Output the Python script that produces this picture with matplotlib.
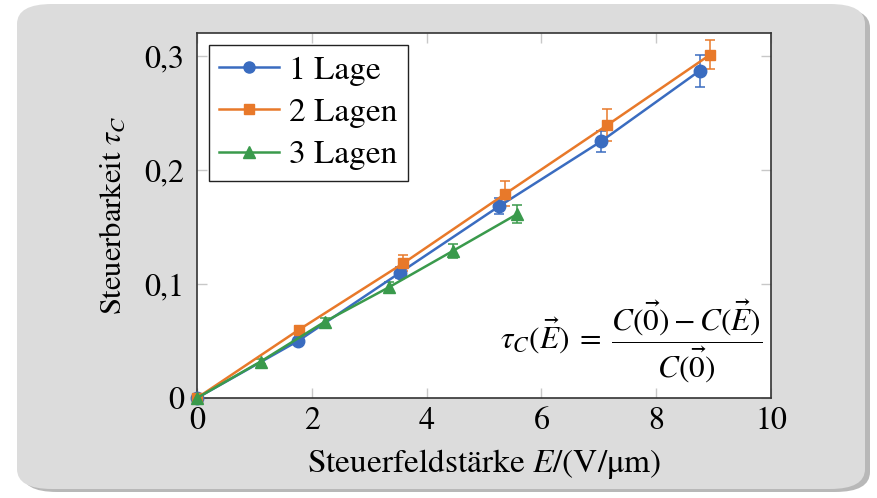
import matplotlib
matplotlib.use("Agg")
import matplotlib.pyplot as plt
from matplotlib.patches import FancyBboxPatch
from matplotlib.lines import Line2D
from matplotlib.ticker import FuncFormatter

plt.rcParams['font.family'] = ['STIXGeneral', 'Liberation Serif', 'DejaVu Serif']
plt.rcParams['mathtext.fontset'] = 'stix'

# data
x1 = [0, 1.76, 3.54, 5.26, 7.04, 8.76]
y1 = [0, 0.050, 0.110, 0.168, 0.225, 0.287]
e1 = [0.002, 0.003, 0.005, 0.007, 0.009, 0.014]

x2 = [0, 1.78, 3.59, 5.37, 7.14, 8.94]
y2 = [0, 0.060, 0.118, 0.179, 0.239, 0.301]
e2 = [0.002, 0.003, 0.007, 0.011, 0.014, 0.013]

x3 = [0, 1.11, 2.23, 3.34, 4.46, 5.57]
y3 = [0, 0.032, 0.067, 0.097, 0.129, 0.161]
e3 = [0.002, 0.002, 0.003, 0.005, 0.006, 0.008]

labels = ["1 Lage", "2 Lagen", "3 Lagen"]
colors = ["#3a6cc0", "#e8792a", "#3a9a4c"]
markers = ["o", "s", "^"]

fig = plt.figure(figsize=(8.77, 4.98), dpi=100)
fig.patch.set_facecolor("white")

# rounded grey panel with a shadow
shadow = FancyBboxPatch((22 / 877, 6 / 498), 848 / 877, 484 / 498,
                        boxstyle="round,pad=0,rounding_size=0.04",
                        transform=fig.transFigure, facecolor="#8a8a8a",
                        edgecolor="none", alpha=0.6, zorder=0)
panel = FancyBboxPatch((17 / 877, 9 / 498), 848 / 877, 485 / 498,
                       boxstyle="round,pad=0,rounding_size=0.04",
                       transform=fig.transFigure, facecolor="#dcdcdc",
                       edgecolor="none", zorder=1)
fig.patches.extend([shadow, panel])

ax = fig.add_axes([197 / 877, 100 / 498, 574 / 877, 365 / 498])
ax.set_zorder(2)

handles = []
for xs, ys, es, lab, c, m in zip([x1, x2, x3], [y1, y2, y3], [e1, e2, e3],
                                 labels, colors, markers):
    ms = 7.8 if m == "s" else 9
    ax.errorbar(xs, ys, yerr=es, color=c, marker=m, markersize=ms,
                linewidth=1.8, elinewidth=1.1, capsize=3.5, capthick=1.1,
                clip_on=False, zorder=3)
    handles.append(Line2D([], [], color=c, marker=m, markersize=ms - 1,
                          linewidth=1.8, label=lab))

ax.set_xlim(0, 10)
ax.set_ylim(0, 0.32)
ax.set_xticks([0, 2, 4, 6, 8, 10])
ax.set_yticks([0, 0.1, 0.2, 0.3])
ax.yaxis.set_major_formatter(FuncFormatter(
    lambda v, p: "0" if abs(v) < 1e-9 else f"{v:.1f}".replace(".", ",")))
ax.tick_params(direction="in", length=7, width=1, color="#c8c8c8",
               top=True, right=True, labelsize=23)
ax.tick_params(axis="y", pad=9)
ax.tick_params(axis="x", pad=6)
for s in ax.spines.values():
    s.set_color("#333333")
    s.set_linewidth(1.2)

ax.set_xlabel("Steuerfeldstärke $E$/(V/μm)", fontsize=24, labelpad=8)
ax.set_ylabel(r"Steuerbarkeit $\tau_C$", fontsize=22, labelpad=12)

leg = ax.legend(handles=handles, loc="upper left", fontsize=24,
                frameon=True, fancybox=False, borderaxespad=0.35,
                handlelength=1.8, labelspacing=0.36, borderpad=0.32,
                handletextpad=0.3)
leg.get_frame().set_edgecolor("#222222")
leg.get_frame().set_linewidth(1.0)
leg.get_frame().set_alpha(1)

ax.text(0.985, 0.158,
        r"$\tau_C(\vec{E})\;=\;\dfrac{C(\vec{0})-C(\vec{E})}{C(\vec{0})}$",
        transform=ax.transAxes, ha="right", va="center", fontsize=22.5)

fig.savefig("out.png", dpi=100)
